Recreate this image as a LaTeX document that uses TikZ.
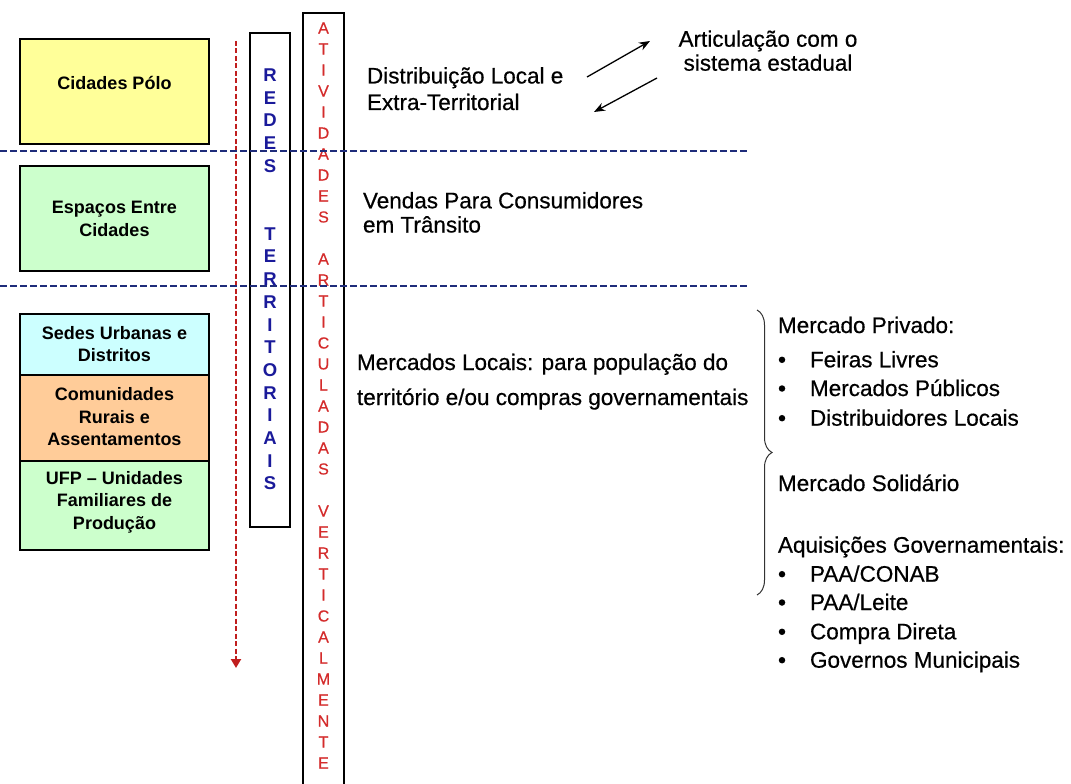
\documentclass[tikz,border=0pt]{standalone}
\usepackage{fontspec}
\setmainfont{Liberation Sans}
\newfontfamily\heavysans[FakeBold=0.5]{Liberation Sans}
\usetikzlibrary{arrows.meta,decorations.pathreplacing}
\definecolor{polo}{HTML}{FFFF99}
\definecolor{entre}{HTML}{CCFFCC}
\definecolor{sedes}{HTML}{CCFFFF}
\definecolor{comun}{HTML}{FFCC99}
\definecolor{ufp}{HTML}{CCFFCC}
\definecolor{navyline}{HTML}{1F2C7A}
\definecolor{redesblue}{HTML}{1A1A9A}
\definecolor{ativred}{HTML}{D42B2B}
\definecolor{arrowred}{HTML}{C01E1E}
\begin{document}
\begin{tikzpicture}[x=1pt,y=-1pt,
  every node/.style={inner sep=0pt,outer sep=0pt},
  zonebox/.style={draw=black,line width=1.3pt,minimum width=189pt},
  boxlabel/.style={align=center,font=\fontsize{18}{22.5}\selectfont\bfseries},
  maintext/.style={anchor=base west,font=\fontsize{22.5}{27}\heavysans},
  centertext/.style={anchor=base,font=\fontsize{22.5}{27}\heavysans},
  redesletter/.style={font=\fontsize{18.5}{18.5}\selectfont\bfseries,text=redesblue},
  ativletter/.style={font=\fontsize{16}{16}\heavysans,text=ativred},
  colbox/.style={draw=black,line width=1.3pt},
  divider/.style={navyline,line width=2.2pt,dash pattern=on 7pt off 3pt},
  bulletdot/.style={circle,fill=black,minimum size=6.5pt},
  blackarrow/.style={black,line width=1.3pt,-{Stealth[length=11pt,width=8.5pt]}}
]
\useasboundingbox[fill=white] (0,0) rectangle (1071,784);

% left zone boxes
\node[zonebox,fill=polo,minimum height=105pt] (polo) at (114.5,91.5) {};
\node[boxlabel] (polol) at (114.5,83) {Cidades Pólo};
\node[zonebox,fill=entre,minimum height=105pt] (entre) at (114.5,218.5) {};
\node[boxlabel] (entrel) at (114.5,219) {Espaços Entre\\Cidades};
\node[zonebox,fill=sedes,minimum height=61pt] (sedes) at (114.5,344.5) {};
\node[boxlabel] (sedesl) at (114.5,344) {Sedes Urbanas e\\Distritos};
\node[zonebox,fill=comun,minimum height=86pt] (comun) at (114.5,418) {};
\node[boxlabel] (comunl) at (114.5,417) {Comunidades\\Rurais e\\Assentamentos};
\node[zonebox,fill=ufp,minimum height=89pt] (ufp) at (114.5,505.5) {};
\node[boxlabel] (ufpl) at (114.5,502) {UFP – Unidades\\Familiares de\\Produção};

% vertical column boxes
\node[colbox,minimum width=40pt,minimum height=494pt] (redes) at (270,280) {};
\node[colbox,minimum width=41pt,minimum height=787pt] (ativ) at (323.5,406.5) {};

\foreach \ch [count=\i from 0] in {R,E,D,E,S,{},{},T,E,R,R,I,T,O,R,I,A,I,S}
  \node[redesletter] (rl\i) at (270,75+22.7*\i) {\ch};
\foreach \ch [count=\i from 0] in {A,T,I,V,I,D,A,D,E,S,{},A,R,T,I,C,U,L,A,D,A,S,{},V,E,R,T,I,C,A,L,M,E,N,T,E}
  \node[ativletter] (al\i) at (323.5,28+21*\i) {\ch};

% red dashed arrow
\coordinate (ra) at (236,41);
\coordinate (rb) at (236,668);
\draw[arrowred,line width=2.8pt,dash pattern=on 5pt off 2.5pt,-{Triangle[length=9pt,width=10pt]}] (ra) -- (rb);

% dividers
\coordinate (d1a) at (0,151);
\coordinate (d1b) at (750,151);
\coordinate (d2a) at (0,286);
\coordinate (d2b) at (750,286);
\draw[divider] (d1a) -- (d1b);
\draw[divider] (d2a) -- (d2b);

% top texts
\node[maintext] (dist1) at (367,83.5) {Distribuição Local e};
\node[maintext] (dist2) at (367,110) {Extra-Territorial};
\node[centertext] (art1) at (768,46.7) {Articulação com o};
\node[centertext] (art2) at (768,70.7) {sistema estadual};
\coordinate (a1s) at (587,77);
\coordinate (a1e) at (650,41);
\coordinate (a2s) at (657,78);
\coordinate (a2e) at (594,112);
\draw[blackarrow] (a1s) -- (a1e);
\draw[blackarrow] (a2s) -- (a2e);

\node[maintext] (vend1) at (363,208.3) {Vendas Para Consumidores};
\node[maintext] (vend2) at (363,232.5) {em Trânsito};

\node[maintext] (merc1) at (357,370) {Mercados Locais: para população do};
\node[maintext] (merc2) at (357,405) {território e/ou compras governamentais};

% brace
\coordinate (bt) at (757,310);
\coordinate (bb) at (757,595);
\draw[decorate,decoration={brace,amplitude=15pt},line width=1pt,black!80] (bt) -- (bb);

% right list
\node[maintext] (priv) at (778,333) {Mercado Privado:};
\node[maintext] (solid) at (778,491) {Mercado Solidário};
\node[maintext] (aquis) at (778,552.7) {Aquisições Governamentais:};
\foreach \t/\yy [count=\i] in {{Feiras Livres}/367.3,{Mercados Públicos}/396,{Distribuidores Locais}/425.7,{PAA/CONAB}/581.7,{PAA/Leite}/610,{Compra Direta}/639.3,{Governos Municipais}/667.7}{
  \node[bulletdot] (bd\i) at (782,\yy-7.5) {};
  \node[maintext] (it\i) at (810,\yy) {\t};
}
\end{tikzpicture}
\end{document}
